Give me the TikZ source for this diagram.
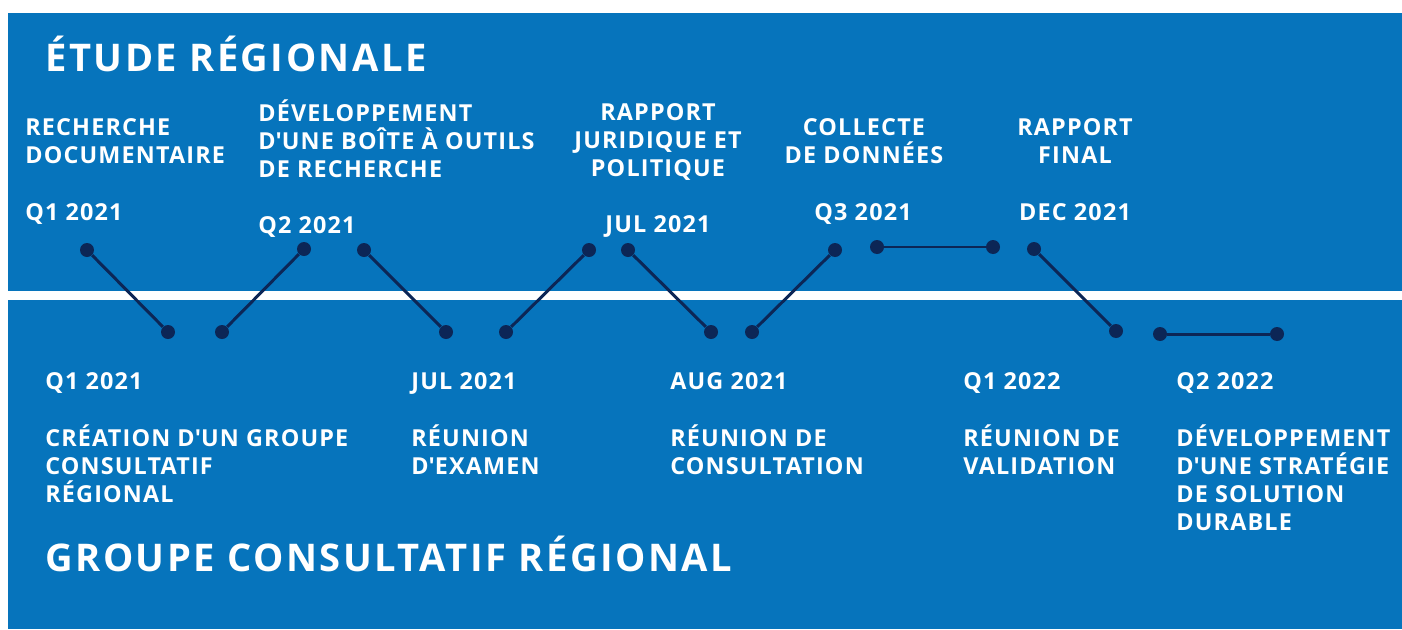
\documentclass[tikz,border=0pt]{standalone}
\usepackage{fontspec}
\setmainfont{Open Sans}
\newfontfamily\labelfont[LetterSpace=5]{Open Sans}
\newfontfamily\headfont[LetterSpace=6.5]{Open Sans}
\usepackage{tikz}
\usetikzlibrary{positioning}
\definecolor{panelblue}{RGB}{6,116,188}
\definecolor{dotnavy}{RGB}{12,38,86}
\newcommand\apos{\textquotesingle}
\newcommand\topline{\rule{0pt}{18pt}}

\tikzset{
  dot/.style={circle,fill=dotnavy,minimum size=0.28cm,inner sep=0pt},
  link/.style={draw=dotnavy,line width=1.7pt},
  event/.style={text=white,inner sep=0pt,anchor=north west,align=left,yshift=8.5pt,
    font=\labelfont\bfseries\fontsize{13.3}{16.05}\selectfont},
  eventc/.style={event,anchor=north,align=center},
  heading/.style={text=white,inner sep=0pt,anchor=north west,yshift=6pt,
    font=\headfont\bfseries\fontsize{21.7}{26}\selectfont}
}

\begin{document}
\begin{tikzpicture}[x=0.02cm,y=-0.02cm]
    \useasboundingbox (0,0) rectangle (1402,629);
    % Panels
    \fill[panelblue] (8,13) rectangle (1402,629);
    \fill[white] (8,291) rectangle (1402,300);

    % Headings
    \node[heading] (etude) at (45,44) {\rule{0pt}{21.5pt}ÉTUDE RÉGIONALE};
    \node[heading] (groupe) at (45,544) {\rule{0pt}{21.5pt}GROUPE CONSULTATIF RÉGIONAL};

    % Regional study
    \node[event] (recherche) at (25,118) {\topline RECHERCHE\\DOCUMENTAIRE};
    \node[event] (recherchedate) at (25,203) {\topline Q1 2021};
    \node[event] (boite) at (258,104) {\topline DÉVELOPPEMENT\\D\apos UNE BOÎTE À OUTILS\\DE RECHERCHE};
    \node[event] (boitedate) at (258,216) {\topline Q2 2021};
    \node[eventc] (juridique) at (658,103) {\topline RAPPORT\\JURIDIQUE ET\\POLITIQUE};
    \node[eventc] (juridiquedate) at (658,215) {\topline JUL 2021};
    \node[eventc] (collecte) at (864,118) {\topline COLLECTE\\DE DONNÉES};
    \node[eventc] (collectedate) at (863,203) {\topline Q3 2021};
    \node[eventc] (final) at (1075,118) {\topline RAPPORT\\FINAL};
    \node[eventc] (finaldate) at (1075,203) {\topline DEC 2021};

    % Advisory group
    \node[event] (creationdate) at (45,372) {\topline Q1 2021};
    \node[event] (creation) at (45,429) {\topline CRÉATION D\apos UN GROUPE\\CONSULTATIF\\RÉGIONAL};
    \node[event] (examendate) at (411,372) {\topline JUL 2021};
    \node[event] (examen) at (411,429) {\topline RÉUNION\\D\apos EXAMEN};
    \node[event] (consultdate) at (670,372) {\topline AUG 2021};
    \node[event] (consult) at (670,429) {\topline RÉUNION DE\\CONSULTATION};
    \node[event] (validdate) at (963,372) {\topline Q1 2022};
    \node[event] (valid) at (963,429) {\topline RÉUNION DE\\VALIDATION};
    \node[event] (strategiedate) at (1176,372) {\topline Q2 2022};
    \node[event] (strategie) at (1176,429) {\topline DÉVELOPPEMENT\\D\apos UNE STRATÉGIE\\DE SOLUTION\\DURABLE};

    % Timeline dots
    \node[dot] (d1) at (87,250) {};
    \node[dot] (d2) at (168,332) {};
    \node[dot] (d3) at (222,332) {};
    \node[dot] (d4) at (304,249) {};
    \node[dot] (d5) at (364,250) {};
    \node[dot] (d6) at (446,332) {};
    \node[dot] (d7) at (506,332) {};
    \node[dot] (d8) at (589,250) {};
    \node[dot] (d9) at (628,250) {};
    \node[dot] (d10) at (711,332) {};
    \node[dot] (d11) at (752,332) {};
    \node[dot] (d12) at (835,250) {};
    \node[dot] (d13) at (877,247) {};
    \node[dot] (d14) at (993,247) {};
    \node[dot] (d15) at (1034,249) {};
    \node[dot] (d16) at (1116,331) {};
    \node[dot] (d17) at (1160,334) {};
    \node[dot] (d18) at (1277,334) {};

    % Connectors
    \foreach \a/\b in {d1/d2,d3/d4,d5/d6,d7/d8,d9/d10,d11/d12,d13/d14,d15/d16,d17/d18}
        \draw[link] (\a) -- (\b);
\end{tikzpicture}
\end{document}
